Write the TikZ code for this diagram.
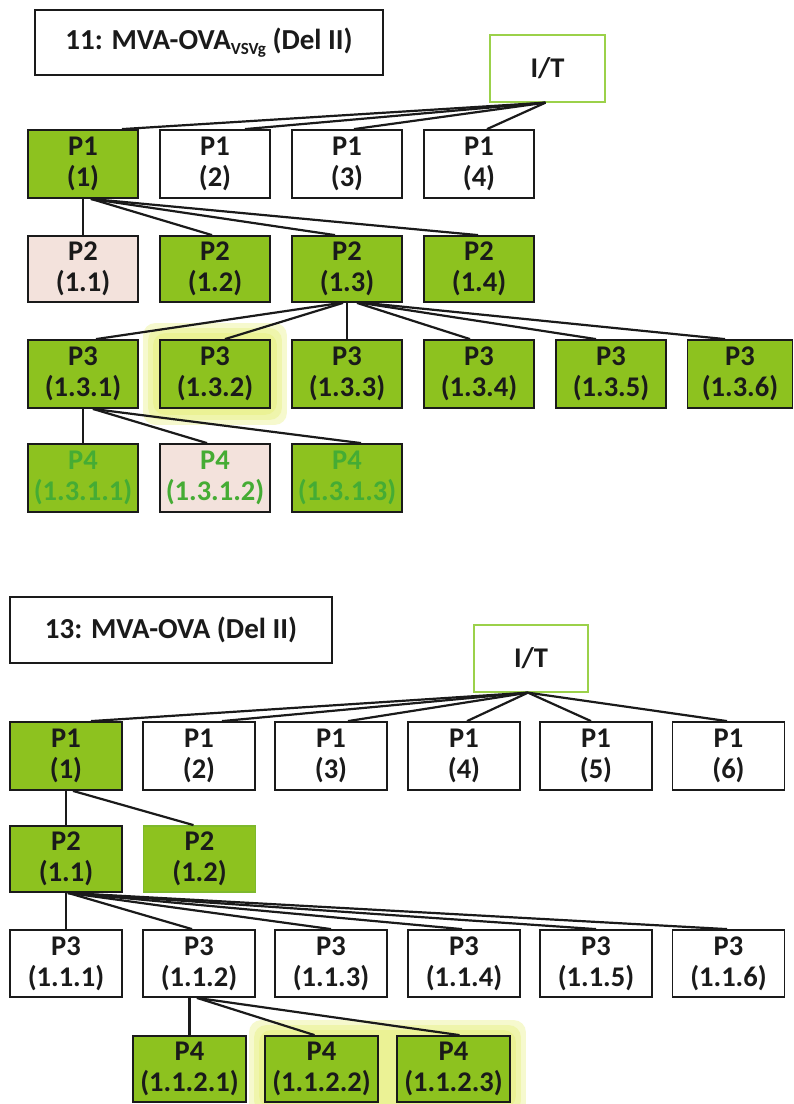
\documentclass[tikz,border=0pt]{standalone}
\usepackage{fontspec}
\setmainfont{Carlito}
\usetikzlibrary{backgrounds}
\definecolor{gfill}{HTML}{8DC21F}
\definecolor{pfill}{HTML}{F3E2DC}
\definecolor{itgreen}{HTML}{9BD14A}
\definecolor{gtext}{HTML}{45AC34}
\definecolor{glowc}{HTML}{E2EC60}
\definecolor{gborder}{HTML}{7DB82C}
\definecolor{ink}{HTML}{1A1A1A}
\tikzset{
  pbox/.style={draw=ink, line width=1.8pt, minimum width=110pt, minimum height=67pt,
    inner sep=0pt, align=center, text=ink,
    font=\fontsize{28.5}{31}\selectfont\bfseries},
  gbox/.style={pbox, fill=gfill},
  pinkbox/.style={pbox, fill=pfill},
  wbox/.style={pbox, fill=white},
  itbox/.style={pbox, fill=white, draw=itgreen, line width=1.3pt},
  titlebox/.style={draw=ink, line width=1.8pt, inner sep=0pt, fill=white,
    font=\fontsize{29}{31}\selectfont\bfseries, text=ink},
  conn/.style={line width=2.2pt, draw=ink},
  glow/.style={fill=glowc, opacity=0.3, rounded corners=12pt},
}
\begin{document}
\begin{tikzpicture}[x=1pt,y=-1pt]
\useasboundingbox (0,0) rectangle (794,1104);
\begin{scope}[on background layer]
  \fill[white] (0,0) rectangle (794,1104);
\end{scope}

% ---------------- Top section ----------------
\node[titlebox, minimum width=348pt, minimum height=65pt] (title1) at (209,42.5)
  {11: MVA-OVA\raisebox{-5pt}{\fontsize{17}{17}\selectfont VSVg} (Del II)};
\node[itbox, minimum width=115pt, minimum height=67pt] (it1) at (547.5,68.5) {I/T};

\node[gbox, minimum height=68pt] (a1) at (83,164) {P1\\(1)};
\node[wbox, minimum height=68pt] (a2) at (215,164) {P1\\(2)};
\node[wbox, minimum height=68pt] (a3) at (347,164) {P1\\(3)};
\node[wbox, minimum height=68pt] (a4) at (479,164) {P1\\(4)};

\node[pinkbox, minimum height=66pt] (b1) at (83,269) {P2\\(1.1)};
\node[gbox, minimum height=66pt] (b2) at (215,269) {P2\\(1.2)};
\node[gbox, minimum height=66pt] (b3) at (347,269) {P2\\(1.3)};
\node[gbox, minimum height=66pt] (b4) at (479,269) {P2\\(1.4)};

\node[gbox, minimum height=68pt] (c1) at (83,374) {P3\\(1.3.1)};
\node[gbox, minimum height=68pt] (c2) at (215,374) {P3\\(1.3.2)};
\node[gbox, minimum height=68pt] (c3) at (347,374) {P3\\(1.3.3)};
\node[gbox, minimum height=68pt] (c4) at (479,374) {P3\\(1.3.4)};
\node[gbox, minimum height=68pt] (c5) at (611,374) {P3\\(1.3.5)};
\node[gbox, minimum height=68pt, minimum width=105pt] (c6) at (740,374) {P3\\(1.3.6)};

\node[gbox, minimum height=68pt, text=gtext] (d1) at (83,478) {P4\\(1.3.1.1)};
\node[pinkbox, minimum height=68pt, text=gtext] (d2) at (215,478) {P4\\(1.3.1.2)};
\node[gbox, minimum height=68pt, text=gtext] (d3) at (347,478) {P4\\(1.3.1.3)};

\begin{scope}[on background layer]
  \foreach \r in {16,11,6}{
    \fill[glow] ([shift={(-\r,-\r)}]c2.north west) rectangle ([shift={(\r,\r)}]c2.south east);
  }
\end{scope}

\draw[conn] ([xshift=-2pt]it1.south) -- ([xshift=39pt]a1.north);
\draw[conn] ([xshift=-2pt]it1.south) -- ([xshift=30pt]a2.north);
\draw[conn] ([xshift=-2pt]it1.south) -- ([xshift=7pt]a3.north);
\draw[conn] ([xshift=-2pt]it1.south) -- ([xshift=8pt]a4.north);

\draw[conn] (a1.south) -- (b1.north);
\draw[conn] ([xshift=8pt]a1.south) -- ([xshift=-3pt]b2.north);
\draw[conn] ([xshift=8pt]a1.south) -- ([xshift=-12pt]b3.north);
\draw[conn] ([xshift=8pt]a1.south) -- ([xshift=-1pt]b4.north);

\draw[conn] ([xshift=-6pt]b3.south) -- ([xshift=13pt]c1.north);
\draw[conn] ([xshift=-4pt]b3.south) -- ([xshift=10pt]c2.north);
\draw[conn] (b3.south) -- (c3.north);
\draw[conn] ([xshift=10pt]b3.south) -- ([xshift=-9pt]c4.north);
\draw[conn] ([xshift=14pt]b3.south) -- ([xshift=-15pt]c5.north);
\draw[conn] ([xshift=18pt]b3.south) -- ([xshift=-15pt]c6.north);

\draw[conn] (c1.south) -- (d1.north);
\draw[conn] ([xshift=10pt]c1.south) -- ([xshift=-8pt]d2.north);
\draw[conn] ([xshift=10pt]c1.south) -- ([xshift=14pt]d3.north);

% ---------------- Bottom section ----------------
\node[titlebox, minimum width=322pt, minimum height=66pt] (title2) at (171,630)
  {13: MVA-OVA (Del II)};
\node[itbox, minimum width=114pt, minimum height=67pt] (it2) at (531,658.5) {I/T};

\node[gbox, minimum width=112pt, minimum height=68pt] (e1) at (66,756) {P1\\(1)};
\node[wbox, minimum width=112pt, minimum height=68pt] (e2) at (199,756) {P1\\(2)};
\node[wbox, minimum width=112pt, minimum height=68pt] (e3) at (331,756) {P1\\(3)};
\node[wbox, minimum width=112pt, minimum height=68pt] (e4) at (464,756) {P1\\(4)};
\node[wbox, minimum width=112pt, minimum height=68pt] (e5) at (596,756) {P1\\(5)};
\node[wbox, minimum width=112pt, minimum height=68pt] (e6) at (728.5,756) {P1\\(6)};

\node[gbox, minimum width=112pt, minimum height=66pt] (f1) at (66,859) {P2\\(1.1)};
\node[gbox, draw=gborder, minimum width=112pt, minimum height=66pt] (f2) at (199.5,859) {P2\\(1.2)};

\node[wbox, minimum width=112pt, minimum height=67pt] (g1) at (66,963.5) {P3\\(1.1.1)};
\node[wbox, minimum width=112pt, minimum height=67pt] (g2) at (199,963.5) {P3\\(1.1.2)};
\node[wbox, minimum width=112pt, minimum height=67pt] (g3) at (331,963.5) {P3\\(1.1.3)};
\node[wbox, minimum width=112pt, minimum height=67pt] (g4) at (464,963.5) {P3\\(1.1.4)};
\node[wbox, minimum width=112pt, minimum height=67pt] (g5) at (596,963.5) {P3\\(1.1.5)};
\node[wbox, minimum width=112pt, minimum height=67pt] (g6) at (728.5,963.5) {P3\\(1.1.6)};

\node[gbox, minimum width=113pt, minimum height=66pt] (h1) at (189.5,1069) {P4\\(1.1.2.1)};
\node[gbox, minimum width=113pt, minimum height=66pt] (h2) at (321.5,1069) {P4\\(1.1.2.2)};
\node[gbox, minimum width=113pt, minimum height=66pt] (h3) at (453.5,1069) {P4\\(1.1.2.3)};

\begin{scope}[on background layer]
  \foreach \r in {15,10,5}{
    \fill[glow] ([shift={(-\r,-\r)}]h2.north west) rectangle ([shift={(\r,\r)}]h3.south east);
  }
\end{scope}

\draw[conn] ([xshift=-3pt]it2.south) -- ([xshift=25pt]e1.north);
\draw[conn] ([xshift=-3pt]it2.south) -- ([xshift=23pt]e2.north);
\draw[conn] ([xshift=-3pt]it2.south) -- ([xshift=17pt]e3.north);
\draw[conn] ([xshift=-3pt]it2.south) -- ([xshift=3pt]e4.north);
\draw[conn] ([xshift=-3pt]it2.south) -- ([xshift=-5pt]e5.north);
\draw[conn] ([xshift=-3pt]it2.south) -- ([xshift=-1.5pt]e6.north);

\draw[conn] (e1.south) -- (f1.north);
\draw[conn] ([xshift=7pt]e1.south) -- ([xshift=-6pt]f2.north);

\draw[conn] (f1.south) -- (g1.north);
\draw[conn] ([xshift=2pt]f1.south) -- ([xshift=-7pt]g2.north);
\draw[conn] ([xshift=2pt]f1.south) -- (g3.north);
\draw[conn] ([xshift=2pt]f1.south) -- ([xshift=-2pt]g4.north);
\draw[conn] ([xshift=2pt]f1.south) -- (g5.north);
\draw[conn] ([xshift=2pt]f1.south) -- ([xshift=-1.5pt]g6.north);

\draw[conn] ([xshift=-9.5pt]g2.south) -- (h1.north);
\draw[conn] ([xshift=-2pt]g2.south) -- ([xshift=-7pt]h2.north);
\draw[conn] ([xshift=-2pt]g2.south) -- ([xshift=6pt]h3.north);
\end{tikzpicture}
\end{document}
